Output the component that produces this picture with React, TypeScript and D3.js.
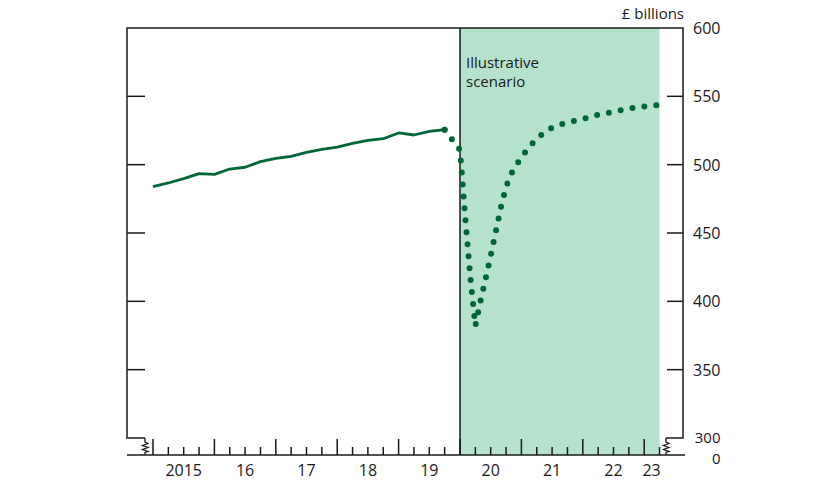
import React from "react";
import * as d3 from "d3";

const historyDates = [2015.0, 2015.25, 2015.5, 2015.75, 2016.0, 2016.25, 2016.5, 2016.75, 2017.0, 2017.25, 2017.5, 2017.75, 2018.0, 2018.25, 2018.5, 2018.75, 2019.0, 2019.25, 2019.5, 2019.75];
const historyValues = [483.9, 486.6, 489.8, 493.4, 492.9, 496.8, 498.1, 502.2, 504.6, 506.1, 509.0, 511.2, 512.9, 515.6, 517.8, 519.0, 523.2, 521.7, 524.4, 525.6];

const scenarioDates = [2019.75, 2020.0, 2020.083, 2020.167, 2020.25, 2020.333, 2020.417, 2020.5, 2020.583, 2020.667, 2020.75, 2020.833, 2020.917, 2021.0, 2021.25, 2021.5, 2021.75, 2022.0, 2022.25, 2022.5, 2022.75, 2023.0, 2023.25];
const scenarioValues = [525.6, 510.7, 462.8, 418.3, 382.0, 400.0, 416.5, 433.5, 451.0, 469.0, 483.7, 493.2, 499.5, 505.6, 519.5, 527.2, 531.0, 533.4, 536.6, 538.7, 541.0, 542.6, 543.7];

const yTicks = [350, 400, 450, 500, 550];
const yLabels = ["350", "400", "450", "500", "550", "600"];
const yLabelValues = [350, 400, 450, 500, 550, 600];
const xLabels = ["2015", "16", "17", "18", "19", "20", "21", "22", "23"];
const xLabelPos = [2015.5, 2016.5, 2017.5, 2018.5, 2019.5, 2020.5, 2021.5, 2022.5, 2023.12];
const scenarioStart = 2020.0;
const scenarioEnd = 2023.25;
const unitLabel = "£ billions";
const scenarioLabel = ["Illustrative", "scenario"];

const W = 840, H = 491;
const LEFT = 127, RIGHT = 683, TOP = 28, Y300 = 438, BASE = 455;
const GREEN = "#006636";
const SHADE = "#b4e2cd";
const INK = "#1a1a1a";
const FONT = "'Open Sans', 'Noto Sans', sans-serif";

export default function App() {
  const x = d3.scaleLinear().domain([2015, 2020]).range([153, 460]);
  const y = d3.scaleLinear().domain([300, 600]).range([Y300, TOP]);

  const line = d3.line<[number, number]>().x(d => x(d[0])).y(d => y(d[1]));
  const histPath = line(historyDates.map((d, i) => [d, historyValues[i]]) as [number, number][]) || "";
  const scenPath = line(scenarioDates.map((d, i) => [d, scenarioValues[i]]) as [number, number][]) || "";

  const quarters = d3.range(2015, scenarioEnd + 0.001, 0.25);

  const zig = (zx: number) =>
    `M${zx},${Y300} L${zx},${Y300 + 4} L${zx + 3},${Y300 + 5.5} L${zx - 2.5},${Y300 + 7.5} L${zx + 3},${Y300 + 9.5} L${zx - 2.5},${Y300 + 11.5} L${zx + 3},${Y300 + 13.5} L${zx},${Y300 + 14.5} L${zx},${BASE}`;

  const leftZ = 145, rightZ = 666;
  const lastX = x(historyDates[historyDates.length - 1]);
  const lastY = y(historyValues[historyValues.length - 1]);

  return (
    <svg width={W} height={H} style={{ position: "absolute", left: 0, top: 0, background: "#fff" }} fontFamily={FONT}>
      <rect x={x(scenarioStart)} y={TOP} width={x(scenarioEnd) - x(scenarioStart)} height={BASE - TOP} fill={SHADE} />
      {/* frame */}
      <path d={`M${leftZ},${Y300} L${LEFT},${Y300} L${LEFT},${TOP} L${RIGHT},${TOP} L${RIGHT},${Y300} L${rightZ},${Y300}`} fill="none" stroke={INK} strokeWidth={1.5} />
      <path d={zig(leftZ)} fill="none" stroke={INK} strokeWidth={1.3} />
      <path d={zig(rightZ)} fill="none" stroke={INK} strokeWidth={1.3} />
      <line x1={LEFT} x2={RIGHT + 2} y1={BASE} y2={BASE} stroke={INK} strokeWidth={1.5} />
      {/* y ticks */}
      {yTicks.map(v => (
        <g key={v}>
          <line x1={LEFT} x2={LEFT + 18} y1={y(v)} y2={y(v)} stroke={INK} strokeWidth={1.5} />
          <line x1={RIGHT - 16} x2={RIGHT} y1={y(v)} y2={y(v)} stroke={INK} strokeWidth={1.5} />
        </g>
      ))}
      {yLabelValues.map((v, i) => (
        <text key={v} x={720.5} y={y(v)} textAnchor="end" dominantBaseline="central" fontSize={16} fill={INK}>{yLabels[i]}</text>
      ))}
      <text x={720.5} y={443} textAnchor="end" fontSize={15} fill={INK}>300</text>
      <text x={720.5} y={463.5} textAnchor="end" fontSize={15} fill={INK}>0</text>
      <text x={684} y={19} textAnchor="end" fontSize={15} fill={INK}>{unitLabel}</text>
      {/* x ticks */}
      {quarters.map(q => {
        const major = Math.abs(q - Math.round(q)) < 0.01;
        return <line key={q} x1={x(q)} x2={x(q)} y1={BASE} y2={BASE - (major ? 16 : 8)} stroke={INK} strokeWidth={1.5} />;
      })}
      {xLabels.map((l, i) => (
        <text key={l} x={x(xLabelPos[i])} y={476} textAnchor="middle" fontSize={16} fill={INK}>{l}</text>
      ))}
      {/* divider */}
      <line x1={x(scenarioStart)} x2={x(scenarioStart)} y1={TOP} y2={BASE} stroke={INK} strokeWidth={1.5} />
      <text x={466} y={68} fontSize={15} fill={INK}>{scenarioLabel[0]}</text>
      <text x={466} y={87} fontSize={15} fill={INK}>{scenarioLabel[1]}</text>
      {/* series */}
      <path d={histPath} fill="none" stroke={GREEN} strokeWidth={2.8} strokeLinejoin="round" />
      <path d={scenPath} fill="none" stroke={GREEN} strokeWidth={6} strokeLinecap="round" strokeDasharray="0 12" />
      <circle cx={lastX} cy={lastY} r={3} fill={GREEN} />
    </svg>
  );
}
